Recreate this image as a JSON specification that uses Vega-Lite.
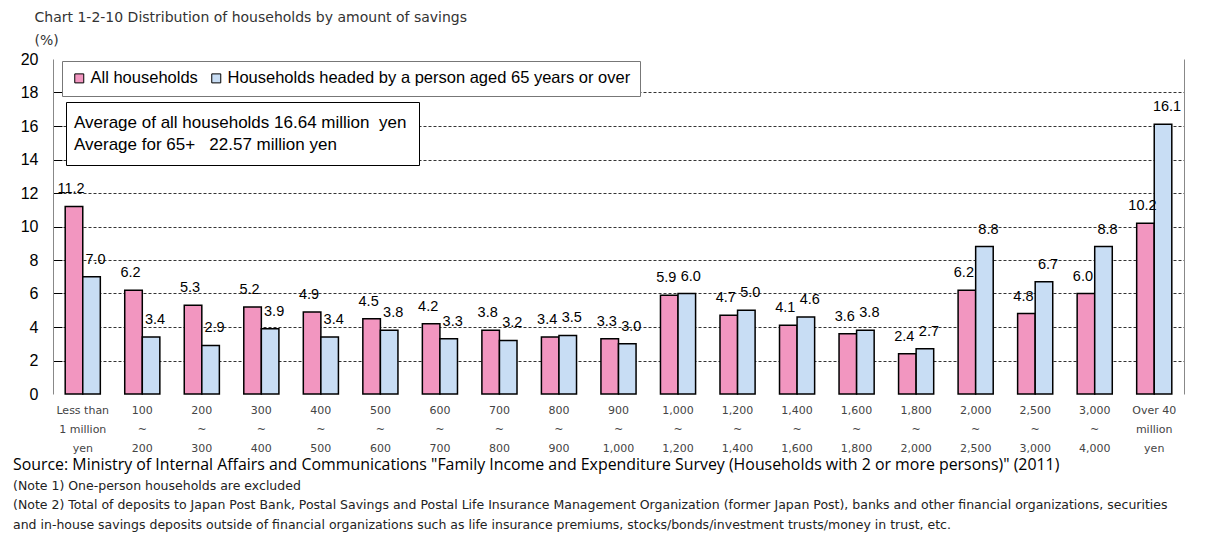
{
  "$schema": "https://vega.github.io/schema/vega-lite/v6.json",
  "width": 1131,
  "height": 335,
  "autosize": {"type": "none"},
  "padding": {"left": 53, "top": 59, "right": 28, "bottom": 142},
  "background": "white",
  "config": {"view": {"stroke": null}, "font": "Liberation Sans"},
  "title": {
    "text": "Source: Ministry of Internal Affairs and Communications \"Family Income and Expenditure Survey (Households with 2 or more persons)\" (2011)",
    "subtitle": [
      "(Note 1) One-person households are excluded",
      "(Note 2) Total of deposits to Japan Post Bank, Postal Savings and Postal Life Insurance Management Organization (former Japan Post), banks and other financial organizations, securities",
      "and in-house savings deposits outside of financial organizations such as life insurance premiums, stocks/bonds/investment trusts/money in trust, etc."
    ],
    "orient": "bottom",
    "anchor": "start",
    "frame": "group",
    "dx": -40,
    "offset": 4,
    "font": "Open Sans",
    "fontSize": 15.9,
    "fontWeight": "normal",
    "color": "#000",
    "subtitleFont": "DejaVu Sans",
    "subtitleFontSize": 12.5,
    "subtitleColor": "#222",
    "subtitleLineHeight": 19.5,
    "subtitlePadding": 7
  },
  "datasets": {
    "bars": [
      {"cat": "Less than|1 million|yen", "series": "All households", "value": 11.2},
      {"cat": "Less than|1 million|yen", "series": "Households headed by a person aged 65 years or over", "value": 7.0},
      {"cat": "100|~|200", "series": "All households", "value": 6.2},
      {"cat": "100|~|200", "series": "Households headed by a person aged 65 years or over", "value": 3.4},
      {"cat": "200|~|300", "series": "All households", "value": 5.3},
      {"cat": "200|~|300", "series": "Households headed by a person aged 65 years or over", "value": 2.9},
      {"cat": "300|~|400", "series": "All households", "value": 5.2},
      {"cat": "300|~|400", "series": "Households headed by a person aged 65 years or over", "value": 3.9},
      {"cat": "400|~|500", "series": "All households", "value": 4.9},
      {"cat": "400|~|500", "series": "Households headed by a person aged 65 years or over", "value": 3.4},
      {"cat": "500|~|600", "series": "All households", "value": 4.5},
      {"cat": "500|~|600", "series": "Households headed by a person aged 65 years or over", "value": 3.8},
      {"cat": "600|~|700", "series": "All households", "value": 4.2},
      {"cat": "600|~|700", "series": "Households headed by a person aged 65 years or over", "value": 3.3},
      {"cat": "700|~|800", "series": "All households", "value": 3.8},
      {"cat": "700|~|800", "series": "Households headed by a person aged 65 years or over", "value": 3.2},
      {"cat": "800|~|900", "series": "All households", "value": 3.4},
      {"cat": "800|~|900", "series": "Households headed by a person aged 65 years or over", "value": 3.5},
      {"cat": "900|~|1,000", "series": "All households", "value": 3.3},
      {"cat": "900|~|1,000", "series": "Households headed by a person aged 65 years or over", "value": 3.0},
      {"cat": "1,000|~|1,200", "series": "All households", "value": 5.9},
      {"cat": "1,000|~|1,200", "series": "Households headed by a person aged 65 years or over", "value": 6.0},
      {"cat": "1,200|~|1,400", "series": "All households", "value": 4.7},
      {"cat": "1,200|~|1,400", "series": "Households headed by a person aged 65 years or over", "value": 5.0},
      {"cat": "1,400|~|1,600", "series": "All households", "value": 4.1},
      {"cat": "1,400|~|1,600", "series": "Households headed by a person aged 65 years or over", "value": 4.6},
      {"cat": "1,600|~|1,800", "series": "All households", "value": 3.6},
      {"cat": "1,600|~|1,800", "series": "Households headed by a person aged 65 years or over", "value": 3.8},
      {"cat": "1,800|~|2,000", "series": "All households", "value": 2.4},
      {"cat": "1,800|~|2,000", "series": "Households headed by a person aged 65 years or over", "value": 2.7},
      {"cat": "2,000|~|2,500", "series": "All households", "value": 6.2},
      {"cat": "2,000|~|2,500", "series": "Households headed by a person aged 65 years or over", "value": 8.8},
      {"cat": "2,500|~|3,000", "series": "All households", "value": 4.8},
      {"cat": "2,500|~|3,000", "series": "Households headed by a person aged 65 years or over", "value": 6.7},
      {"cat": "3,000|~|4,000", "series": "All households", "value": 6.0},
      {"cat": "3,000|~|4,000", "series": "Households headed by a person aged 65 years or over", "value": 8.8},
      {"cat": "Over 40|million|yen", "series": "All households", "value": 10.2},
      {"cat": "Over 40|million|yen", "series": "Households headed by a person aged 65 years or over", "value": 16.1}
    ],
    "avg": [
      {"line": "Average of all households 16.64 million\u00a0 yen"},
      {"line": "Average for 65+\u00a0\u00a0 22.57 million yen"}
    ]
  },
  "layer": [
    {
      "data": {"name": "bars"},
      "mark": {"type": "bar", "stroke": "#000", "strokeWidth": 1.5},
      "encoding": {
        "x": {
          "field": "cat", "type": "nominal", "sort": null,
          "scale": {"paddingInner": 0.41, "paddingOuter": 0.205},
          "axis": {
            "title": null, "labelAngle": 0, "domain": false, "ticks": false,
            "labelExpr": "split(datum.value, '|')",
            "labelLineHeight": 19, "labelFontSize": 11, "labelFont": "DejaVu Sans", "labelColor": "#444",
            "labelPadding": 10, "labelBaseline": "top", "labelLimit": 100
          }
        },
        "xOffset": {"field": "series", "type": "nominal"},
        "y": {
          "field": "value", "type": "quantitative",
          "scale": {"domain": [0, 20]},
          "axis": {
            "values": [0, 2, 4, 6, 8, 10, 12, 14, 16, 18, 20],
            "grid": true, "gridDash": [3, 2], "gridColor": "#000", "gridWidth": 0.8,
            "gridOpacity": {"condition": {"test": "datum.value === 0 || datum.value === 20", "value": 0}, "value": 1},
            "tickOpacity": {"condition": {"test": "datum.value === 0 || datum.value === 20", "value": 0}, "value": 1},
            "domainColor": "#888", "tickColor": "#000", "tickSize": -9,
            "labelPadding": 24, "labelFontSize": 16, "labelColor": "#000",
            "title": ["Chart 1-2-10 Distribution of households by amount of savings", "(%)"],
            "titleAngle": 0, "titleAlign": "left", "titleBaseline": "top",
            "titleX": -19, "titleY": -49, "titleFont": "DejaVu Sans", "titleFontSize": 14, "titleFontWeight": "normal",
            "titleColor": "#333", "titleLineHeight": 23
          }
        },
        "color": {
          "field": "series", "type": "nominal",
          "scale": {
            "domain": ["All households", "Households headed by a person aged 65 years or over"],
            "range": ["#F296C0", "#C8DDF4"]
          },
          "legend": {
            "orient": "none", "legendX": 9, "legendY": 2, "direction": "horizontal",
            "title": null, "labelFontSize": 16.5, "labelColor": "#000", "labelLimit": 600,
            "symbolType": "square", "symbolSize": 81, "symbolStrokeColor": "#000", "symbolStrokeWidth": 1,
            "labelOffset": 3, "columnPadding": 10, "padding": 9,
            "strokeColor": "#777", "fillColor": "white"
          }
        }
      }
    },
    {
      "data": {"name": "bars"},
      "transform": [{"filter": "datum.series === 'All households'"}],
      "mark": {"type": "text", "baseline": "middle", "dy": -17, "dx": -3, "fontSize": 14.5, "color": "#000"},
      "encoding": {
        "x": {"field": "cat", "type": "nominal", "sort": null},
        "xOffset": {"field": "series", "type": "nominal"},
        "y": {
          "field": "value", "type": "quantitative",
          "axis": {"orient": "right", "labels": false, "ticks": false, "grid": false, "title": null, "domainColor": "#888"}
        },
        "text": {"field": "value", "type": "quantitative", "format": ".1f"}
      }
    },
    {
      "data": {"name": "bars"},
      "transform": [{"filter": "datum.series !== 'All households'"}],
      "mark": {"type": "text", "baseline": "middle", "dy": -17, "dx": 4, "fontSize": 14.5, "color": "#000"},
      "encoding": {
        "x": {"field": "cat", "type": "nominal", "sort": null},
        "xOffset": {"field": "series", "type": "nominal"},
        "y": {"field": "value", "type": "quantitative", "axis": null},
        "text": {"field": "value", "type": "quantitative", "format": ".1f"}
      }
    },
    {
      "data": {"name": "avg"},
      "mark": {"type": "point", "opacity": 0},
      "encoding": {
        "shape": {
          "field": "line", "type": "nominal",
          "scale": {"domain": ["Average of all households 16.64 million\u00a0 yen", "Average for 65+\u00a0\u00a0 22.57 million yen"]},
          "legend": {
            "orient": "none", "legendX": 13, "legendY": 43, "direction": "vertical",
            "title": null, "labelFontSize": 17, "labelColor": "#000", "labelLimit": 600,
            "symbolSize": 0, "symbolOpacity": 0, "symbolStrokeWidth": 0, "labelOffset": -21,
            "rowPadding": 4, "padding": 12,
            "strokeColor": "#000", "fillColor": "white",
            "encode": {"legend": {"update": {"strokeWidth": {"value": 2}}}}
          }
        }
      }
    }
  ],
  "resolve": {"axis": {"y": "independent"}}
}
